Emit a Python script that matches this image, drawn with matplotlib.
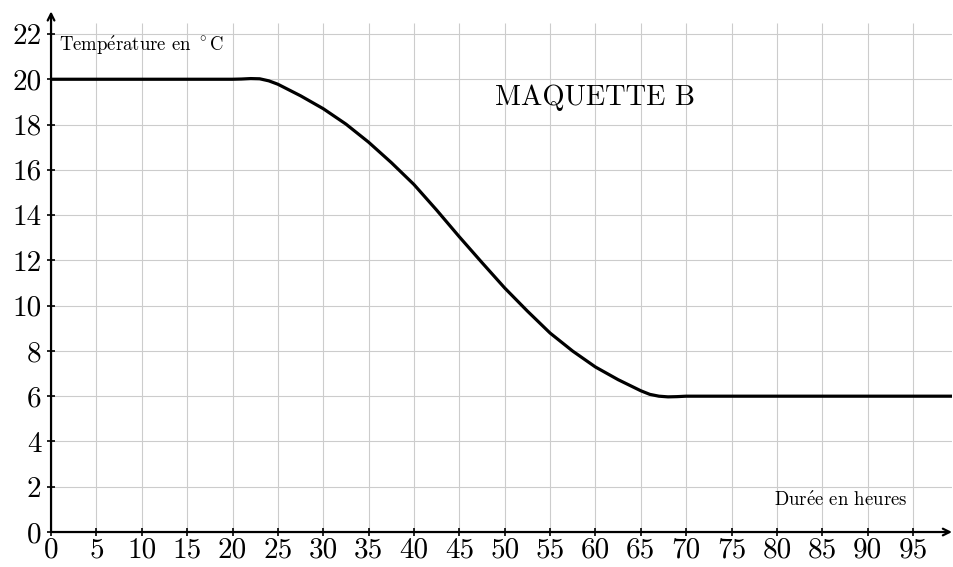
import matplotlib.pyplot as plt

plt.rcParams['font.family'] = 'cmr10'
plt.rcParams['mathtext.fontset'] = 'cm'
plt.rcParams['axes.unicode_minus'] = False

# Courbe (maquette B)
duree = [0, 5, 10, 15, 20, 21, 22, 23, 24, 25, 27.5, 30, 32.5, 35, 37.5, 40, 42.5,
         45, 47.5, 50, 52.5, 55, 57.5, 60, 62.5, 65, 66, 67, 68, 69, 70, 80, 90, 100]
temperature = [20, 20, 20, 20, 20, 20.01, 20.03, 20.02, 19.93, 19.78, 19.27, 18.7, 18.02,
               17.22, 16.32, 15.35, 14.22, 13.04, 11.9, 10.78, 9.76, 8.79, 7.99, 7.29, 6.73,
               6.24, 6.08, 6.0, 5.97, 5.98, 6.0, 6.0, 6.0, 6.0]
x_ticks = list(range(0, 100, 5))
y_ticks = list(range(0, 23, 2))

fig = plt.figure(figsize=(9.54, 5.67), dpi=100)
ax = fig.add_axes([0.0535, 0.0617, 0.9444, 0.9183])
ax.set_xlim(0, 99.3)
ax.set_ylim(0, 23)

# quadrillage
ax.vlines(x_ticks[1:], 0, 22.5, color='#cccccc', lw=0.8, zorder=1)
ax.hlines(y_ticks[1:], 0, 99.3, color='#cccccc', lw=0.8, zorder=1)

ax.plot(duree, temperature, color='black', lw=2.3, zorder=3,
        solid_capstyle='round', solid_joinstyle='round')

# axes avec flèches
for s in ax.spines.values():
    s.set_visible(False)
arrow = dict(arrowstyle='->', lw=1.6, color='black', shrinkA=0, shrinkB=0,
             mutation_scale=12)
ax.annotate('', xy=(99.3, 0), xytext=(0, 0), arrowprops=arrow, annotation_clip=False, zorder=4)
ax.annotate('', xy=(0, 23), xytext=(0, 0), arrowprops=arrow, annotation_clip=False, zorder=4)

ax.set_xticks(x_ticks)
ax.set_yticks(y_ticks)
ax.tick_params(direction='inout', length=6, width=1.2, labelsize=21, pad=1)
ax.tick_params(axis='y', pad=4)

ax.text(0.9, 21.5, r'Temp$\acute{\rm e}$rature en $^\circ$C', fontsize=13.5, va='center', ha='left')
ax.text(87.0, 1.41, r'Dur$\acute{\rm e}$e en heures', fontsize=13.5, va='center', ha='center')
ax.text(60.0, 19.2, 'MAQUETTE B', fontsize=20.5, va='center', ha='center')

fig.savefig('out.png', dpi=100)
